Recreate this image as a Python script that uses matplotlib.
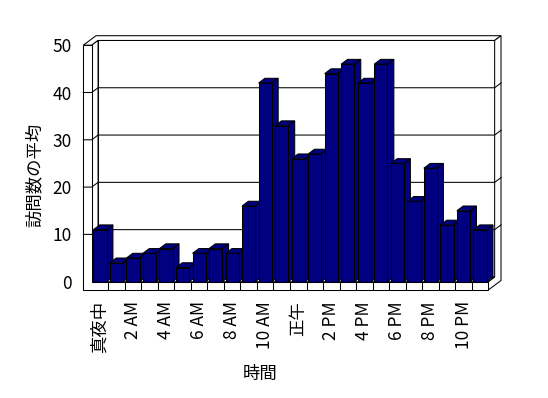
import matplotlib
matplotlib.use("Agg")
import matplotlib.pyplot as plt
from matplotlib.patches import Polygon

plt.rcParams['font.family'] = ['Noto Sans CJK JP', 'DejaVu Sans']

# data
hours = ['真夜中', '1 AM', '2 AM', '3 AM', '4 AM', '5 AM', '6 AM', '7 AM', '8 AM', '9 AM',
         '10 AM', '11 AM', '正午', '1 PM', '2 PM', '3 PM', '4 PM', '5 PM', '6 PM', '7 PM',
         '8 PM', '9 PM', '10 PM', '11 PM']
visits = [11, 4, 5, 6, 7, 3, 6, 7, 6, 16, 42, 33, 26, 27, 44, 46, 42, 46, 25, 17, 24, 12, 15, 11]
yticks = [0, 10, 20, 30, 40, 50]

navy = '#000080'
lw = 0.75

fig = plt.figure(figsize=(5.48, 3.98), dpi=100)
W, H = 548, 398
# front plane of the bars in pixels
x0, x1, y0, y1 = 91.7, 488.3, 281.7, 45.2
ax = fig.add_axes([x0 / W, 1 - y0 / H, (x1 - x0) / W, (y0 - y1) / H])
n = len(visits)
ax.set_xlim(-0.5, n - 0.5)
ax.set_ylim(0, 50)
ax.patch.set_visible(False)
for s in ax.spines.values():
    s.set_visible(False)

# 3d box geometry (converted from pixels into data units)
ppx = (x1 - x0) / n
ppy = (y0 - y1) / 50
DX, DY = 12.7 / ppx, 9.5 / ppy       # full depth of the box
WT = 8.4 / ppx                        # left wall thickness
FT = 8.3 / ppy                        # floor thickness
BD = 0.5                              # bars / inner back wall depth
L, R, TOP = -0.5, n - 0.5, 50


def P(x, y, z):
    return (x + z * DX, y + z * DY)


def poly(pts, z, fc='white'):
    ax.add_patch(Polygon([P(*p) for p in pts], closed=True, facecolor=fc,
                         edgecolor='black', lw=lw, zorder=z, clip_on=False,
                         joinstyle='miter'))


# back wall inner face
poly([(L, 0, BD), (R, 0, BD), (R, TOP, BD), (L, TOP, BD)], 1)
# top of walls
poly([(L - WT, TOP, 0), (L, TOP, 0), (L, TOP, BD), (R, TOP, BD), (R, TOP, 1), (L - WT, TOP, 1)], 1)
# right side of back wall + floor
poly([(R, -FT, 0), (R, -FT, 1), (R, TOP, 1), (R, TOP, BD), (R, 0, BD), (R, 0, 0)], 1)
# left wall inner face
poly([(L, 0, 0), (L, TOP, 0), (L, TOP, BD), (L, 0, BD)], 1)
# floor top between front and back wall
poly([(L, 0, 0), (R, 0, 0), (R, 0, BD), (L, 0, BD)], 1)
# left wall + floor front faces
poly([(L - WT, -FT, 0), (R, -FT, 0), (R, 0, 0), (L, 0, 0), (L, TOP, 0), (L - WT, TOP, 0)], 1)

# gridlines
for v in yticks[1:-1]:
    pts = [P(L - WT, v, 0), P(L, v, 0), P(L, v, BD), P(R, v, BD), P(R, v, 1)]
    ax.plot([p[0] for p in pts], [p[1] for p in pts], color='black', lw=lw,
            zorder=2, clip_on=False, solid_joinstyle='miter')

# floor ticks
for k in range(n - 1):
    ax.plot([k + 0.5, k + 0.5], [-FT, 0], color='black', lw=lw, zorder=2, clip_on=False)

# bars
bw = 0.8
bars = ax.bar(range(n), visits, width=bw, color=navy, edgecolor='black', lw=lw)
for i, (b, v) in enumerate(zip(bars, visits)):
    zb = 10 + i * 3
    b.set_zorder(zb + 2)
    b.set_clip_on(False)
    poly([(i - bw / 2, v, 0), (i + bw / 2, v, 0), (i + bw / 2, v, BD), (i - bw / 2, v, BD)], zb, navy)
    poly([(i + bw / 2, 0, 0), (i + bw / 2, v, 0), (i + bw / 2, v, BD), (i + bw / 2, 0, BD)], zb + 1, navy)

# ticks and labels
fs = 12.5
ax.set_yticks(yticks)
ax.set_yticklabels([str(t) for t in yticks], fontsize=fs)
ax.set_xticks(range(0, n, 2))
ax.set_xticklabels(hours[::2], rotation=90, fontsize=fs)
ax.tick_params(axis='y', length=0, pad=14.4)
ax.tick_params(axis='x', length=0, pad=13.9)

fig.text(35 / W, 1 - 174.7 / H, '訪問数の平均', rotation=90, ha='center', va='center', fontsize=fs)
fig.text(260 / W, 1 - 374 / H, '時間', ha='center', va='center', fontsize=fs)

fig.savefig('out.png', dpi=100)
